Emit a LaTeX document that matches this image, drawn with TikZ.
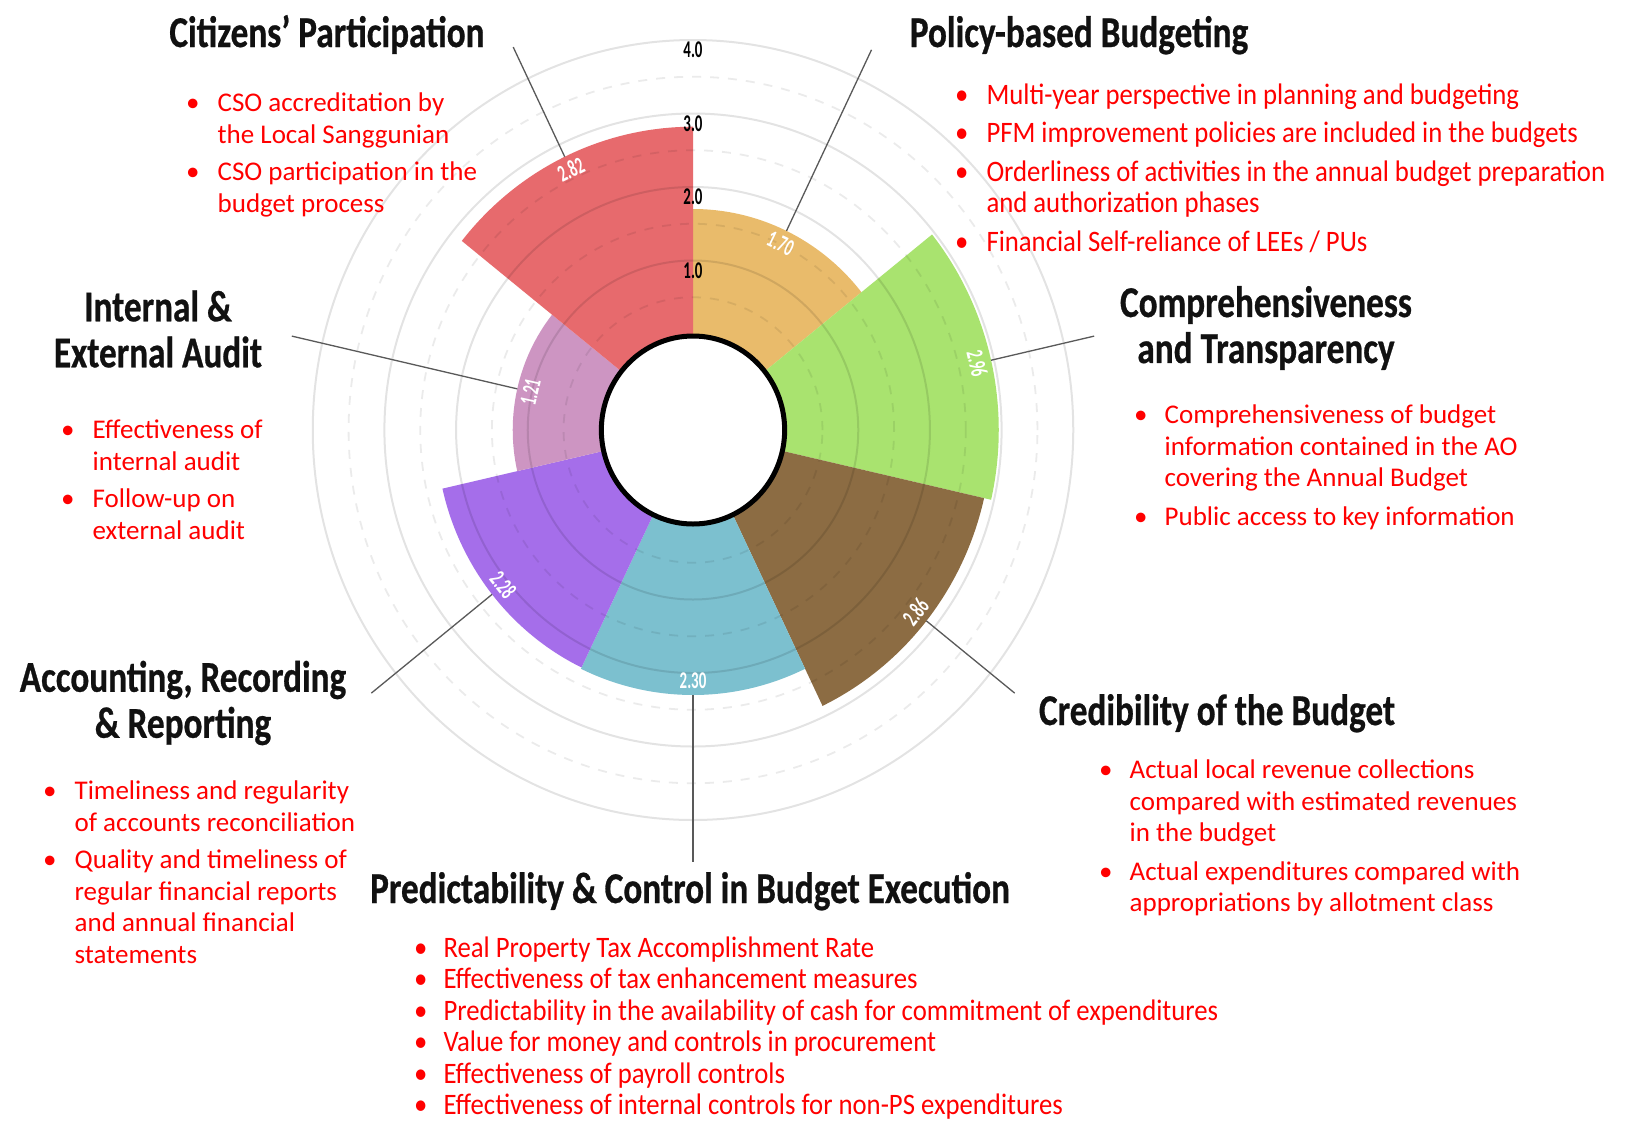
\documentclass[tikz,border=0pt]{standalone}
\usepackage{fontspec}
\usepackage{array}
\setmainfont{Carlito}
\newfontfamily\titlefont{Carlito}[FakeStretch=0.8,FakeBold=0.6]
\newfontfamily\numfont{Carlito}[FakeStretch=0.62]
\newfontfamily\condfont{Carlito}[FakeStretch=0.9]
\definecolor{cRed}{HTML}{E76A6D}
\definecolor{cOrange}{HTML}{E9BB6B}
\definecolor{cGreen}{HTML}{A9E36F}
\definecolor{cBrown}{HTML}{8C6C43}
\definecolor{cBlue}{HTML}{7CC0CF}
\definecolor{cPurple}{HTML}{A56EEA}
\definecolor{cPink}{HTML}{CD95C2}
\definecolor{txtRed}{HTML}{FF0000}
\definecolor{titleInk}{HTML}{111111}
\newcommand\bl{\textbullet}
\begin{document}
\begin{tikzpicture}[x=1pt,y=-1pt,
  title/.style={font={\titlefont\bfseries\fontsize{44}{46}\selectfont}, text=titleInk, inner sep=0pt, align=center},
  body/.style={font={\fontsize{27}{31.5}\selectfont}, text=txtRed, inner sep=0pt, anchor=base west},
  bodycond/.style={font={\condfont\fontsize{29.7}{31.5}\selectfont}, text=txtRed, inner sep=0pt, anchor=base west},
  val/.style={font={\numfont\bfseries\fontsize{24}{24}\selectfont}, text=white, inner sep=0pt},
  axislbl/.style={font={\numfont\bfseries\fontsize{24}{24}\selectfont}, text=black, inner sep=0pt},
  callout/.style={draw=black!65, line width=1.3pt},
  gridsolid/.style={draw=black, draw opacity=0.11, line width=2pt},
  griddash/.style={draw=black, draw opacity=0.08, line width=1.8pt, dash pattern=on 9pt off 9pt},
]
\fill[white] (0,0) rectangle (1627,1120);
\useasboundingbox (0,0) rectangle (1627,1120);

\begin{scope}[shift={(693,430)}, xscale=0.975, yscale=-1]
  % sectors
  \fill[cOrange] (0,0) -- (90:221) arc[start angle=90, end angle=38.571, radius=221] -- cycle;
  \fill[cGreen] (0,0) -- (38.571:313.6) arc[start angle=38.571, end angle=-12.857, radius=313.6] -- cycle;
  \fill[cBrown] (0,0) -- (-12.857:306.2) arc[start angle=-12.857, end angle=-64.286, radius=306.2] -- cycle;
  \fill[cBlue] (0,0) -- (-64.286:265) arc[start angle=-64.286, end angle=-115.714, radius=265] -- cycle;
  \fill[cPurple] (0,0) -- (-115.714:263.6) arc[start angle=-115.714, end angle=-167.143, radius=263.6] -- cycle;
  \fill[cPink] (0,0) -- (-167.143:184.9) arc[start angle=-167.143, end angle=-218.571, radius=184.9] -- cycle;
  \fill[cRed] (0,0) -- (141.429:303.3) arc[start angle=141.429, end angle=90, radius=303.3] -- cycle;
  % grid
  \foreach \r in {169.5,243,316.5,390} \draw[gridsolid] (0,0) circle[radius=\r];
  \foreach \r in {132.75,206.25,279.75,353.25} \draw[griddash] (0,0) circle[radius=\r];
  % hub
  \draw[line width=5pt, fill=white] (0,0) circle[radius=94];
  % axis labels
  \node[axislbl] (ax4) at (0,380) {4.0};
  \node[axislbl] (ax3) at (0,306.5) {3.0};
  \node[axislbl] (ax2) at (0,233) {2.0};
  \node[axislbl] (ax1) at (0,159.5) {1.0};
  % callout start / end coordinates
  \coordinate (sPB) at (64.286:221);     \coordinate (ePB) at (64.286:422);
  \coordinate (sCT) at (12.857:313.6);   \coordinate (eCT) at (12.857:422);
  \coordinate (sCB) at (-38.571:306.2);  \coordinate (eCB) at (-38.571:422);
  \coordinate (sPC) at (-90:265);        \coordinate (ePC) at (-90:432);
  \coordinate (sAR) at (-141.429:263.6); \coordinate (eAR) at (-141.429:422);
  \coordinate (sIA) at (167.143:184.9);  \coordinate (eIA) at (167.143:422);
  \coordinate (sCP) at (115.714:303.3);  \coordinate (eCP) at (115.714:425);
  \foreach \k in {PB,CT,CB,PC,AR,IA,CP} \draw[callout] (s\k) -- (e\k);
  % value labels
  \node[val, rotate=-25.714] (vPB) at (64.286:207) {1.70};
  \node[val, rotate=-77.143] (vCT) at (12.857:299) {2.96};
  \node[val, rotate=51.429]  (vCB) at (-38.571:292) {2.86};
  \node[val, rotate=0]       (vPC) at (-90:251) {2.30};
  \node[val, rotate=-51.429] (vAR) at (-141.429:249) {2.28};
  \node[val, rotate=77.143]  (vIA) at (167.143:171) {1.21};
  \node[val, rotate=25.714]  (vCP) at (115.714:289) {2.82};
\end{scope}

% titles
\node[title, anchor=base] (tCP) at (327,47) {Citizens’ Participation};
\node[title, anchor=base] (tPB) at (1079,47) {Policy-based Budgeting};
\node[title] (tCT) at (1266,328) {Comprehensiveness\\and Transparency};
\node[title] (tIA) at (158,329) {Internal \&\\External Audit};
\node[title] (tAR) at (183,703) {Accounting, Recording\\\& Reporting};
\node[title, anchor=base] (tCB) at (1217,725) {Credibility of the Budget};
\node[title, anchor=base] (tPC) at (690,903) {Predictability \& Control in Budget Execution};

% bullet lists
\node[body] (bCP) at (186,111.5) {\begin{tabular}[t]{@{}l@{\hspace{18pt}}l@{}}
\bl & CSO accreditation by\\
    & the Local Sanggunian\\[6pt]
\bl & CSO participation in the\\
    & budget process
\end{tabular}};

\node[bodycond] (bPB) at (955,104) {\begin{tabular}[t]{@{}l@{\hspace{18pt}}l@{}}
\bl & Multi-year perspective in planning and budgeting\\[7pt]
\bl & PFM improvement policies are included in the budgets\\[7pt]
\bl & Orderliness of activities in the annual budget preparation\\
    & and authorization phases\\[7pt]
\bl & Financial Self-reliance of LEEs / PUs
\end{tabular}};

\node[body] (bCT) at (1134,423.5) {\begin{tabular}[t]{@{}l@{\hspace{17pt}}l@{}}
\bl & Comprehensiveness of budget\\
    & information contained in the AO\\
    & covering the Annual Budget\\[7pt]
\bl & Public access to key information
\end{tabular}};

\node[body] (bIA) at (61,438.5) {\begin{tabular}[t]{@{}l@{\hspace{18pt}}l@{}}
\bl & Effectiveness of\\
    & internal audit\\[6pt]
\bl & Follow-up on\\
    & external audit
\end{tabular}};

\node[body] (bAR) at (43,799.5) {\begin{tabular}[t]{@{}l@{\hspace{18pt}}l@{}}
\bl & Timeliness and regularity\\
    & of accounts reconciliation\\[6pt]
\bl & Quality and timeliness of\\
    & regular financial reports\\
    & and annual financial\\
    & statements
\end{tabular}};

\node[body] (bCB) at (1099,778.5) {\begin{tabular}[t]{@{}l@{\hspace{17pt}}l@{}}
\bl & Actual local revenue collections\\
    & compared with estimated revenues\\
    & in the budget\\[7pt]
\bl & Actual expenditures compared with\\
    & appropriations by allotment class
\end{tabular}};

\node[bodycond] (bPC) at (414,957) {\begin{tabular}[t]{@{}l@{\hspace{16pt}}l@{}}
\bl & Real Property Tax Accomplishment Rate\\
\bl & Effectiveness of tax enhancement measures\\
\bl & Predictability in the availability of cash for commitment of expenditures\\
\bl & Value for money and controls in procurement\\
\bl & Effectiveness of payroll controls\\
\bl & Effectiveness of internal controls for non-PS expenditures
\end{tabular}};
\end{tikzpicture}
\end{document}
